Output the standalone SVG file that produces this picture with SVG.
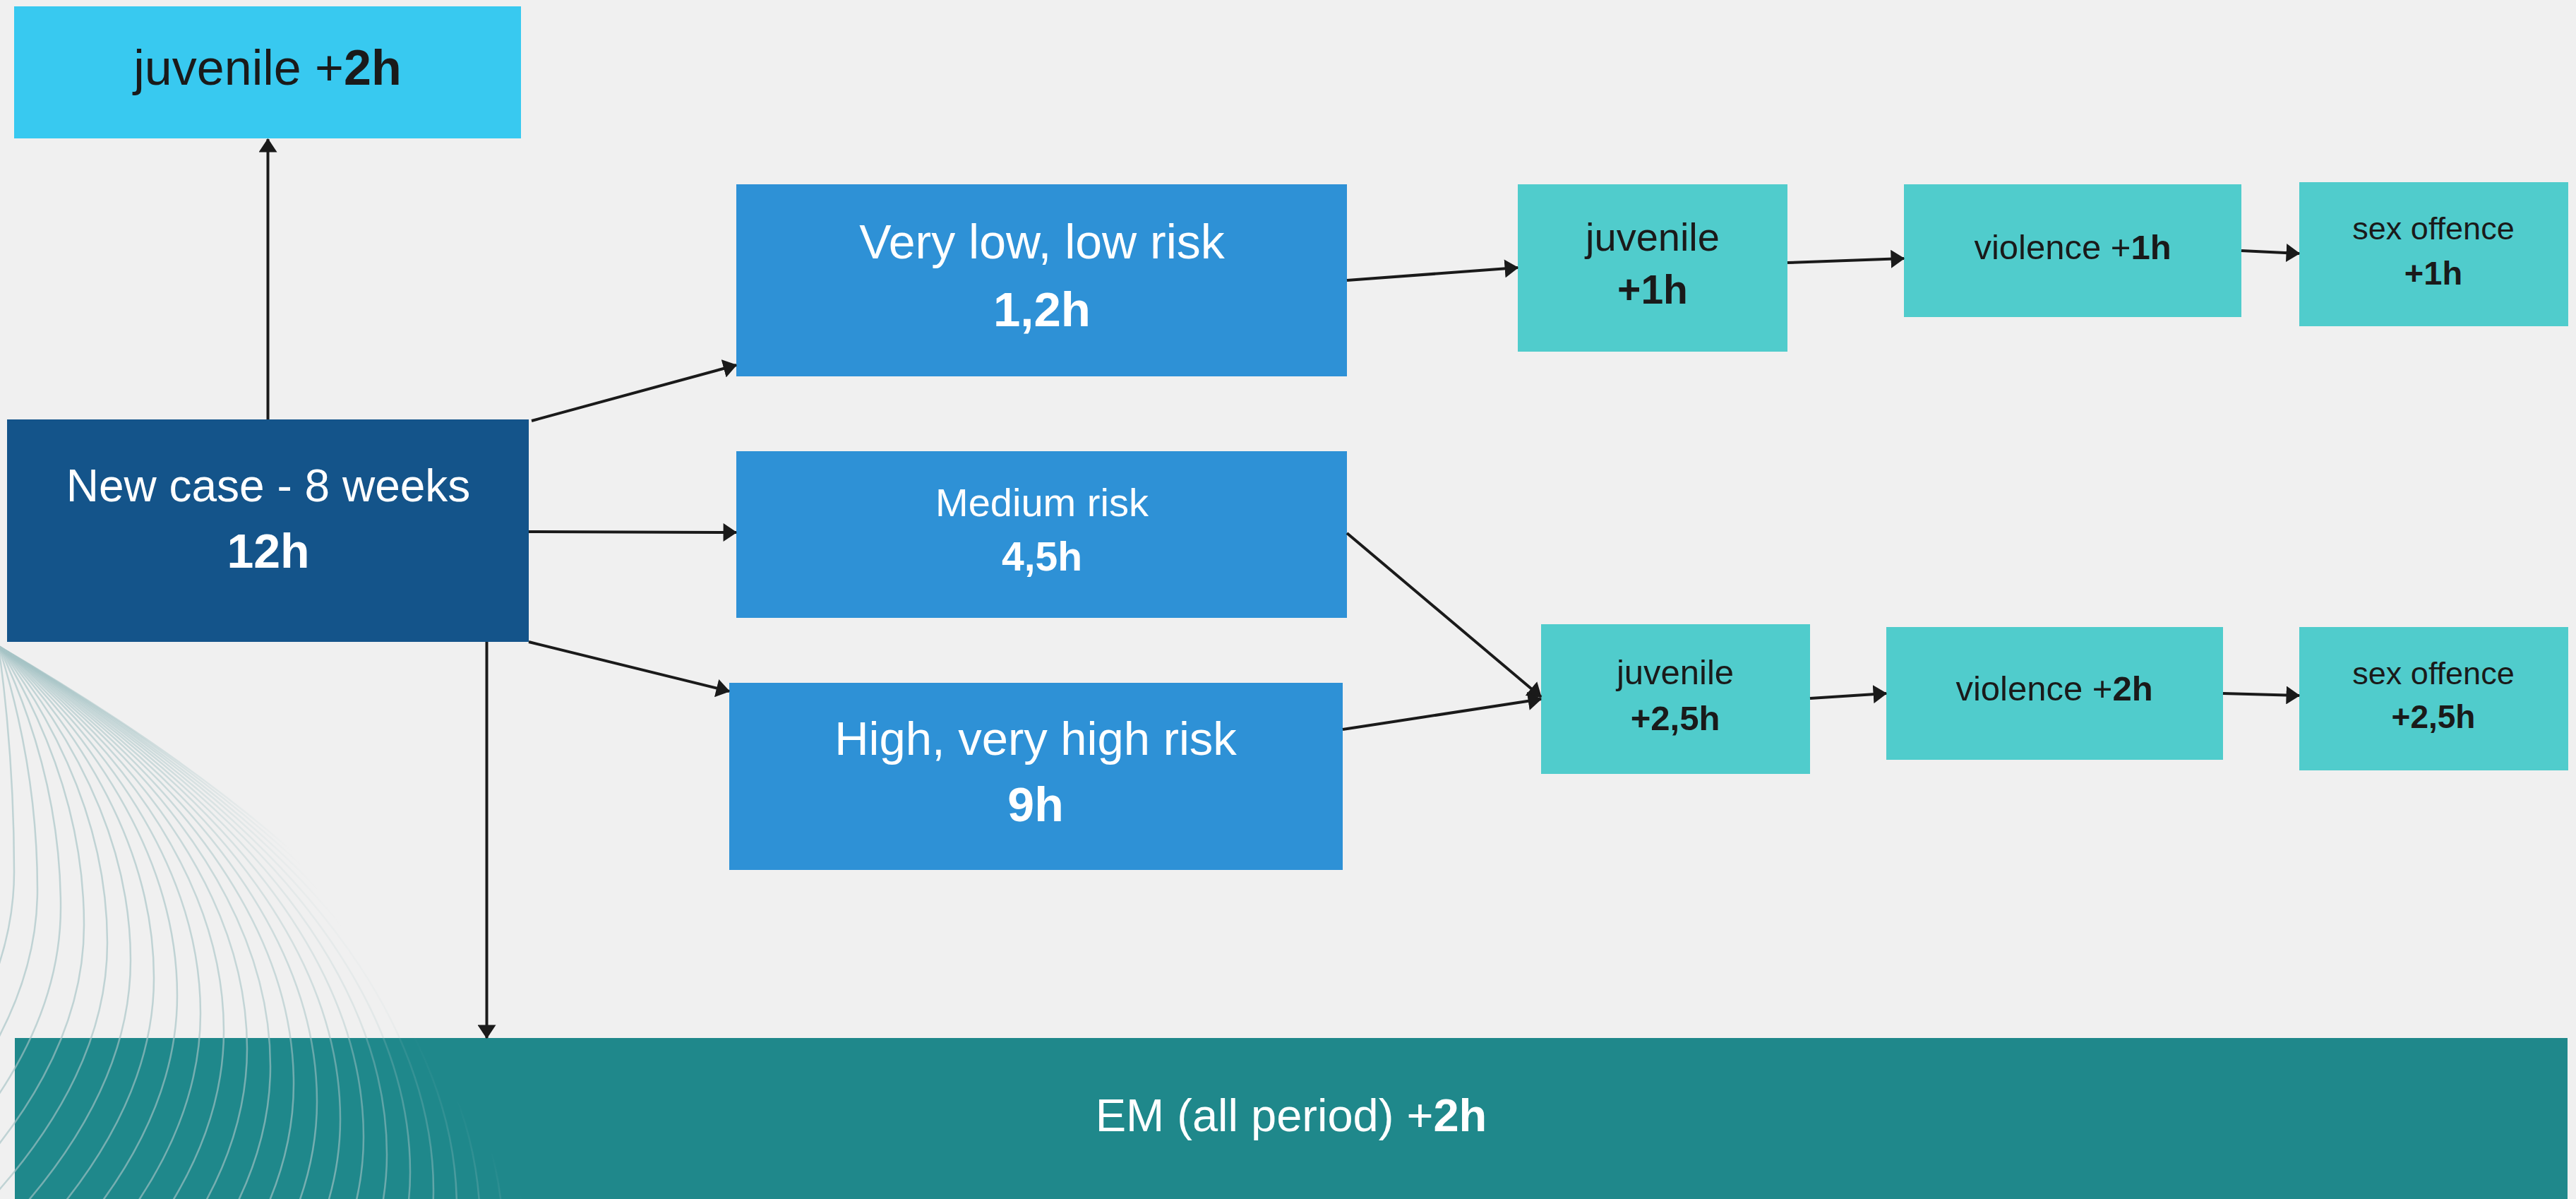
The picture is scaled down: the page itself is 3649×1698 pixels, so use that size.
<svg xmlns="http://www.w3.org/2000/svg" width="3649" height="1698" viewBox="0 0 3649 1698">
<style>
.t{font-family:"Liberation Sans",Arial,sans-serif;text-anchor:middle}
.w{fill:#ffffff}
.d{fill:#1a1a1a}
.b{font-weight:bold}
.con{stroke:#1a1a1a;stroke-width:4;fill:none;marker-end:url(#ah)}
.deco path{fill:none;stroke:url(#fade);stroke-width:2.5}
</style>
<defs>
<marker id="ah" markerUnits="userSpaceOnUse" markerWidth="20" markerHeight="26" viewBox="0 0 18 24" refX="17" refY="12" orient="auto">
<path d="M0,0 L18,12 L0,24 z" fill="#1a1a1a"/>
</marker>
<linearGradient id="fade" gradientUnits="userSpaceOnUse" x1="0" y1="960" x2="175" y2="844">
<stop offset="0" stop-color="#a5c3c5" stop-opacity="0.65"/>
<stop offset="0.55" stop-color="#a5c3c5" stop-opacity="0.5"/>
<stop offset="1" stop-color="#a5c3c5" stop-opacity="0"/>
</linearGradient>
</defs>
<rect x="0" y="0" width="3649" height="1698" fill="#f0f0f0"/>

<g id="node-em">
<rect x="21" y="1470" width="3616" height="228" fill="#1f888b"/>
<text class="t w" x="1829" y="1602" font-size="65">EM (all period) +<tspan class="b">2h</tspan></text>
</g>

<g class="deco">
<path d="M-2,915 Q20,1075 20,1235 Q20,1312 -10,1390"/>
<path d="M-2,915 Q53,1087 53,1260 Q53,1372 -10,1484"/>
<path d="M-2,915 Q86,1100 86,1285 Q86,1424 -10,1562"/>
<path d="M-2,915 Q119,1112 119,1310 Q119,1471 -10,1631"/>
<path d="M-2,915 Q152,1125 152,1335 Q152,1515 -10,1695"/>
<path d="M-2,915 Q185,1137 185,1360 Q185,1557 -10,1755"/>
<path d="M-2,915 Q218,1150 218,1385 Q218,1598 -10,1812"/>
<path d="M-2,915 Q251,1162 251,1410 Q251,1638 -10,1867"/>
<path d="M-2,915 Q284,1175 284,1435 Q284,1678 -10,1920"/>
<path d="M-2,915 Q317,1187 317,1460 Q317,1716 -10,1971"/>
<path d="M-2,915 Q350,1200 350,1485 Q350,1753 -10,2022"/>
<path d="M-2,915 Q383,1212 383,1510 Q383,1790 -10,2071"/>
<path d="M-2,915 Q416,1225 416,1535 Q416,1827 -10,2119"/>
<path d="M-2,915 Q449,1237 449,1560 Q449,1863 -10,2166"/>
<path d="M-2,915 Q482,1250 482,1585 Q482,1899 -10,2212"/>
<path d="M-2,915 Q515,1262 515,1610 Q515,1934 -10,2258"/>
<path d="M-2,915 Q548,1275 548,1635 Q548,1969 -10,2303"/>
<path d="M-2,915 Q581,1287 581,1660 Q581,2004 -10,2348"/>
<path d="M-2,915 Q614,1300 614,1685 Q614,2038 -10,2392"/>
<path d="M-2,915 Q647,1312 647,1710 Q647,2072 -10,2435"/>
<path d="M-2,915 Q680,1325 680,1735"/>
<path d="M-2,915 Q713,1337 713,1760"/>
<path d="M-2,915 Q746,1350 746,1785"/>
</g>

<g id="node-juvenile-top">
<rect x="20" y="9" width="718" height="187" fill="#38c9f0"/>
<text class="t d" x="379" y="120" font-size="70">juvenile +<tspan class="b">2h</tspan></text>
</g>

<g id="node-new-case">
<rect x="10" y="594" width="739" height="315" fill="#14548a"/>
<text class="t w" x="380" y="710" font-size="64">New case - 8 weeks</text>
<text class="t w b" x="380" y="804" font-size="68">12h</text>
</g>

<g id="node-very-low">
<rect x="1043" y="261" width="865" height="272" fill="#2e91d6"/>
<text class="t w" x="1476" y="366" font-size="68">Very low, low risk</text>
<text class="t w b" x="1476" y="462" font-size="69">1,2h</text>
</g>

<g id="node-medium">
<rect x="1043" y="639" width="865" height="236" fill="#2e91d6"/>
<text class="t w" x="1476" y="731" font-size="56">Medium risk</text>
<text class="t w b" x="1476" y="808" font-size="57">4,5h</text>
</g>

<g id="node-high">
<rect x="1033" y="967" width="869" height="265" fill="#2e91d6"/>
<text class="t w" x="1467" y="1069" font-size="67">High, very high risk</text>
<text class="t w b" x="1467" y="1163" font-size="68">9h</text>
</g>

<g id="node-juvenile-1">
<rect x="2150" y="261" width="382" height="237" fill="#50cccc"/>
<text class="t d" x="2341" y="355" font-size="56">juvenile</text>
<text class="t d b" x="2341" y="430" font-size="57">+1h</text>
</g>

<g id="node-violence-1">
<rect x="2697" y="261" width="478" height="188" fill="#50cccc"/>
<text class="t d" x="2936" y="367" font-size="49">violence +<tspan class="b">1h</tspan></text>
</g>

<g id="node-sex-1">
<rect x="3257" y="258" width="381" height="204" fill="#50cccc"/>
<text class="t d" x="3447" y="339" font-size="45">sex offence</text>
<text class="t d b" x="3447" y="403" font-size="47">+1h</text>
</g>

<g id="node-juvenile-2">
<rect x="2183" y="884" width="381" height="212" fill="#50cccc"/>
<text class="t d" x="2373" y="969" font-size="49">juvenile</text>
<text class="t d b" x="2373" y="1034" font-size="49">+2,5h</text>
</g>

<g id="node-violence-2">
<rect x="2672" y="888" width="477" height="188" fill="#50cccc"/>
<text class="t d" x="2910" y="992" font-size="49">violence +<tspan class="b">2h</tspan></text>
</g>

<g id="node-sex-2">
<rect x="3257" y="888" width="381" height="203" fill="#50cccc"/>
<text class="t d" x="3447" y="969" font-size="45">sex offence</text>
<text class="t d b" x="3447" y="1031" font-size="46">+2,5h</text>
</g>

<g id="connectors">
<line class="con" x1="379.5" y1="594" x2="379.5" y2="197"/>
<line class="con" x1="753" y1="596" x2="1043" y2="517"/>
<line class="con" x1="749" y1="753" x2="1043" y2="754"/>
<line class="con" x1="749" y1="909" x2="1033" y2="979"/>
<line class="con" x1="689.5" y1="909" x2="689.5" y2="1470"/>
<line class="con" x1="1908" y1="397" x2="2150" y2="379"/>
<line class="con" x1="1908" y1="755" x2="2183" y2="987"/>
<line class="con" x1="1902" y1="1033" x2="2183" y2="990"/>
<line class="con" x1="2532" y1="372" x2="2697" y2="366"/>
<line class="con" x1="3175" y1="355" x2="3257" y2="359"/>
<line class="con" x1="2564" y1="989" x2="2672" y2="982"/>
<line class="con" x1="3149" y1="982" x2="3257" y2="985"/>
</g>
</svg>
